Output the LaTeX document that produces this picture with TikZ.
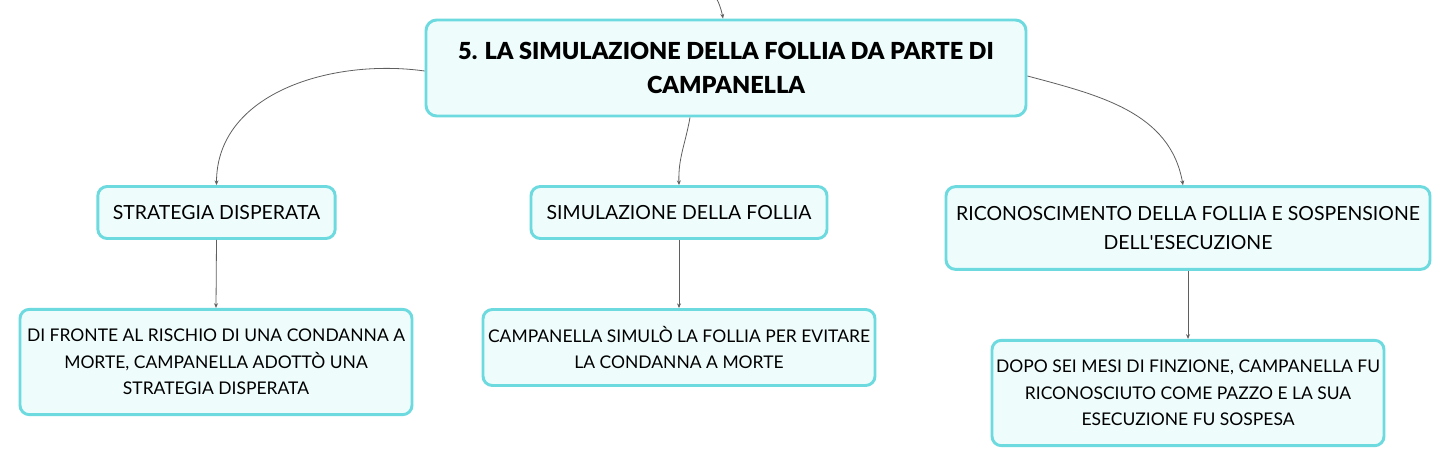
\documentclass[tikz,border=0pt]{standalone}
\usepackage{fontspec}
\setmainfont{Lato}
\newfontfamily\titlefont{Lato Black}
\usepackage{tikz}
\usetikzlibrary{arrows.meta, positioning, calc}
\definecolor{boxline}{RGB}{108, 218, 222}
\definecolor{boxfill}{RGB}{239, 252, 252}
\definecolor{linkgray}{RGB}{95, 95, 95}
\tikzset{
    topic/.style={rectangle, rounded corners=8pt, line width=2.2pt, draw=boxline, fill=boxfill, align=center, inner sep=0pt, font=\fontsize{17.6}{26}\selectfont\titlefont},
    subtopic/.style={rectangle, rounded corners=7pt, line width=2.2pt, draw=boxline, fill=boxfill, align=center, inner sep=0pt, font=\fontsize{14.6}{22}\selectfont},
    detail/.style={subtopic, font=\fontsize{13.1}{20}\selectfont},
    link/.style={line width=0.6pt, linkgray, -{Stealth[length=3.5pt, width=3pt]}}
}
\begin{document}
\begin{tikzpicture}[x=0.75pt, y=-0.75pt]
    \useasboundingbox (0,0) rectangle (1451,467);
    \node[topic, minimum width=450pt, minimum height=72pt] (root) at (726, 68) {5. LA SIMULAZIONE DELLA FOLLIA DA PARTE DI\\CAMPANELLA};
    \node[subtopic, minimum width=178pt, minimum height=39pt] (strat) at (216.5, 212.5) {STRATEGIA DISPERATA};
    \node[subtopic, minimum width=222pt, minimum height=39pt] (sim) at (679, 212.5) {SIMULAZIONE DELLA FOLLIA};
    \node[subtopic, minimum width=363pt, minimum height=62pt] (ric) at (1188, 228) {RICONOSCIMENTO DELLA FOLLIA E SOSPENSIONE\\DELL\textquotesingle ESECUZIONE};
    \node[detail, minimum width=294pt, minimum height=79pt] (fronte) at (216, 362) {DI FRONTE AL RISCHIO DI UNA CONDANNA A\\MORTE, CAMPANELLA ADOTTÒ UNA\\STRATEGIA DISPERATA};
    \node[detail, minimum width=294pt, minimum height=57pt] (evitare) at (679, 347.5) {CAMPANELLA SIMULÒ LA FOLLIA PER EVITARE\\LA CONDANNA A MORTE};
    \node[detail, minimum width=294pt, minimum height=79pt] (sospesa) at (1188, 393) {DOPO SEI MESI DI FINZIONE, CAMPANELLA FU\\RICONOSCIUTO COME PAZZO E LA SUA\\ESECUZIONE FU SOSPESA};
    \coordinate (parent) at (714, 0);
    \draw[link] (parent) to[out=75, in=100] ($(root.north)+(-3,0)$);
    \draw[link] ($(root.west)+(0,3)$) to[out=172, in=90] (strat.north);
    \draw[link] ($(root.south)+(-36,0)$) to[out=260, in=92] (sim.north);
    \draw[link] ($(root.east)+(0,8)$) to[out=-15, in=100] ($(ric.north)+(-5,0)$);
    \draw[link] (strat.south) -- (fronte.north);
    \draw[link] (sim.south) -- (evitare.north);
    \draw[link] (ric.south) -- (sospesa.north);
\end{tikzpicture}
\end{document}
